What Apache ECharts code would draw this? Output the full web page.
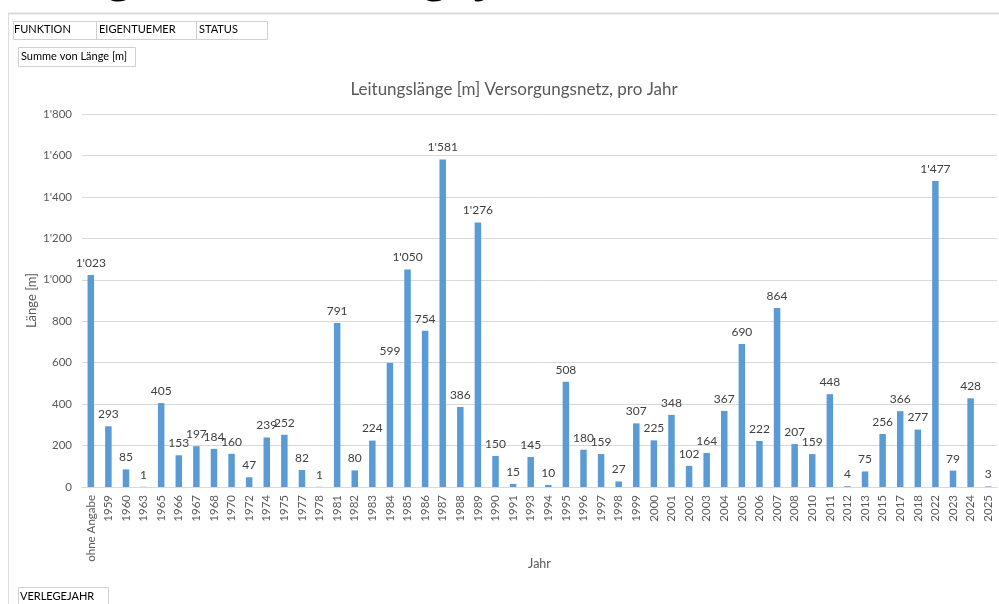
<!DOCTYPE html>
<html>
<head>
<meta charset="utf-8">
<script src="https://cdn.jsdelivr.net/npm/echarts@6/dist/echarts.min.js"></script>
<style>
html,body{margin:0;padding:0;background:#fff;}
#c{width:999px;height:604px;}
</style>
</head>
<body>
<div id="c"></div>
<script>
const categories = ["ohne Angabe","1959","1960","1963","1965","1966","1967","1968","1970","1972","1974","1975","1977","1978","1981","1982","1983","1984","1985","1986","1987","1988","1989","1990","1991","1993","1994","1995","1996","1997","1998","1999","2000","2001","2002","2003","2004","2005","2006","2007","2008","2010","2011","2012","2013","2015","2017","2018","2022","2023","2024","2025"];
const lengths = [1023,293,85,1,405,153,197,184,160,47,239,252,82,1,791,80,224,599,1050,754,1581,386,1276,150,15,145,10,508,180,159,27,307,225,348,102,164,367,690,222,864,207,159,448,4,75,256,366,277,1477,79,428,3];
const chartTitle = "Leitungslänge [m] Versorgungsnetz, pro Jahr";
const pageHeading = "Länge nach Verlegejahr";
const filterFields = ["FUNKTION","EIGENTUEMER","STATUS"];
const valueField = "Summe von Länge [m]";
const rowField = "VERLEGEJAHR";
const yAxisName = "Länge [m]";
const xAxisName = "Jahr";

function fmt(v){
  return String(v).replace(/\B(?=(\d{3})+(?!\d))/g, "'");
}
const FONT = "Lato";

// fit the clipped page heading so that its descenders fall where the reference shows them
const mc = document.createElement('canvas').getContext('2d');
function w(s, size){ mc.font = 'bold ' + size + 'px Lato'; return mc.measureText(s).width; }
const baseSize = 46;
const i1 = pageHeading.indexOf('Länge') + 3;
const i2 = pageHeading.indexOf('Verlegejahr') + 5;
const c1 = w(pageHeading.slice(0, i1), baseSize) + w('g', baseSize) / 2;
const c2 = w(pageHeading.slice(0, i2), baseSize) + w('g', baseSize) / 2;
const headSize = Math.round(baseSize * 316 / (c2 - c1));
const headLeft = 119 - c1 * headSize / baseSize;
mc.font = 'bold ' + headSize + 'px Lato';
const descent = mc.measureText('g').actualBoundingBoxDescent || headSize * 0.2;

const chart = echarts.init(document.getElementById('c'), null, {renderer:'canvas'});
chart.setOption({
  backgroundColor:'#fff',
  animation:false,
  textStyle:{fontFamily:FONT},
  title:{
    text: chartTitle,
    left: 509, top: 76, textAlign:'center',
    textStyle:{fontFamily:FONT, fontSize:17, fontWeight:'normal', color:'#595959'}
  },
  grid:{left:82, right:2, top:114, bottom:117, containLabel:false},
  xAxis:{
    type:'category',
    data: categories,
    name: xAxisName,
    nameLocation:'middle',
    nameGap:70,
    nameMoveOverlap:false,
    nameTextStyle:{fontFamily:FONT, fontSize:12.5, color:'#595959'},
    axisTick:{show:false},
    axisLine:{lineStyle:{color:'#d9d9d9', width:1}},
    axisLabel:{rotate:90, interval:0, fontSize:11.5, color:'#595959', fontFamily:FONT, margin:8}
  },
  yAxis:{
    type:'value',
    min:0, max:1800, interval:200,
    name: yAxisName,
    nameLocation:'middle',
    nameGap:44,
    nameMoveOverlap:false,
    nameRotate:90,
    nameTextStyle:{fontFamily:FONT, fontSize:13, color:'#595959'},
    axisLine:{show:false},
    axisTick:{show:false},
    axisLabel:{formatter:fmt, fontSize:11.5, color:'#595959', fontFamily:FONT, margin:10},
    splitLine:{lineStyle:{color:'#d9d9d9', width:1}}
  },
  series:[{
    type:'bar',
    data: lengths,
    barWidth:6.5,
    itemStyle:{color:'#5B9BD5'},
    label:{show:true, position:'top', distance:6, formatter:p=>fmt(p.value), fontSize:12, color:'#404040', fontFamily:FONT}
  }],
  graphic:[
    {type:'text', x:headLeft, y:1, style:{text:pageHeading, font:'bold ' + headSize + 'px Lato', fill:'#000', verticalAlign:'bottom', lineHeight:headSize}},
    {type:'line', shape:{x1:8, y1:13.5, x2:999, y2:13.5}, style:{stroke:'#dcdcdc', lineWidth:2}},
    {type:'line', shape:{x1:8.5, y1:13, x2:8.5, y2:604}, style:{stroke:'#dcdcdc', lineWidth:1}},
    {type:'rect', shape:{x:13.5, y:21.5, width:254, height:18}, style:{fill:'none', stroke:'#d0d0d0', lineWidth:1}},
    {type:'line', shape:{x1:96.5, y1:21.5, x2:96.5, y2:39.5}, style:{stroke:'#d0d0d0', lineWidth:1}},
    {type:'line', shape:{x1:196.5, y1:21.5, x2:196.5, y2:39.5}, style:{stroke:'#d0d0d0', lineWidth:1}},
    {type:'text', left:14, top:24, style:{text:filterFields[0], font:'11px Lato', fill:'#000'}},
    {type:'text', left:99, top:24, style:{text:filterFields[1], font:'11px Lato', fill:'#000'}},
    {type:'text', left:199, top:24, style:{text:filterFields[2], font:'11px Lato', fill:'#000'}},
    {type:'rect', shape:{x:18.5, y:47.5, width:117, height:19}, style:{fill:'none', stroke:'#d0d0d0', lineWidth:1}},
    {type:'text', left:21, top:51, style:{text:valueField, font:'11px Lato', fill:'#000'}},
    {type:'rect', shape:{x:18.5, y:587.5, width:90, height:20}, style:{fill:'none', stroke:'#d0d0d0', lineWidth:1}},
    {type:'text', left:20, top:591, style:{text:rowField, font:'11px Lato', fill:'#000'}}
  ]
});
</script>
</body>
</html>
